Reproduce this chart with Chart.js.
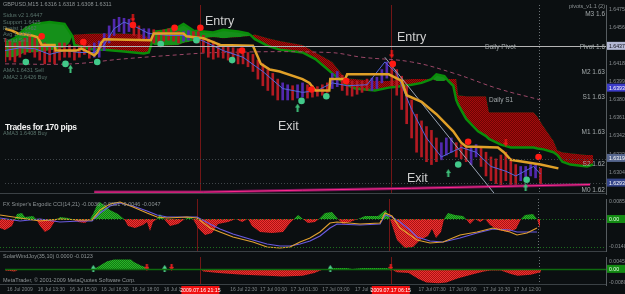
<!DOCTYPE html>
<html>
<head>
<meta charset="utf-8">
<script src="https://cdn.jsdelivr.net/npm/chart.js@4.4.1/dist/chart.umd.min.js"></script>
<style>
  html, body { margin: 0; padding: 0; background: #0b0f11; }
  #wrap { position: relative; width: 625px; height: 294px; overflow: hidden; background: #0b0f11;
          font-family: "Liberation Sans", Arial, sans-serif; }
  canvas { position: absolute; left: 0; }
  .t { position: absolute; white-space: nowrap; line-height: 1; }
  .big { font-size: 12.5px; color: #d0d0d0; }
  .bold { font-size: 8.5px; font-weight: bold; color: #f2f2f2; letter-spacing: -0.3px; }
  .tiny { font-size: 5.5px; color: #8e9496; }
  .dim { font-size: 5.5px; color: #5a746c; }
  .lvl { font-size: 6.5px; color: #a3a9ab; }
</style>
</head>
<body>
<div id="wrap">
  <canvas id="mainChart" width="625" height="199" style="top:0"></canvas>
  <canvas id="osc1Chart" width="625" height="53" style="top:199px"></canvas>
  <canvas id="osc2Chart" width="625" height="42" style="top:252px"></canvas>

  <div class="t tiny" style="left:3px;top:2px">GBPUSD,M15  1.6316 1.6318 1.6308 1.6311</div>
  <div class="t dim" style="left:3px;top:13px">Sidus v2  1.6447</div>
  <div class="t dim" style="left:3px;top:20px">Support  1.6425</div>
  <div class="t dim" style="left:3px;top:26px">Resist  1.6462</div>
  <div class="t dim" style="left:3px;top:32px">Avg  1.6439</div>
  <div class="t dim" style="left:3px;top:38px">Trend  Sell</div>
  <div class="t dim" style="left:3px;top:68px">AMA 1.6431 Sell</div>
  <div class="t dim" style="left:3px;top:75px">AMA2 1.6426 Buy</div>
  <div class="t dim" style="left:3px;top:131px">AMA3 1.6408 Buy</div>

  <div class="t tiny" style="right:20px;top:4px">pivots_v1.1 (2)</div>
  <div class="t lvl" style="right:20px;top:11px">M3 1.6</div>
  <div class="t lvl" style="right:20px;top:44px">Pivot 1.6</div>
  <div class="t lvl" style="right:20px;top:69px">M2 1.63</div>
  <div class="t lvl" style="right:20px;top:94px">S1 1.63</div>
  <div class="t lvl" style="right:20px;top:129px">M1 1.63</div>
  <div class="t lvl" style="right:20px;top:161px">S2 1.62</div>
  <div class="t lvl" style="right:20px;top:187px">M0 1.62</div>
  <div class="t lvl" style="left:485px;top:44px">Daily Pivot</div>
  <div class="t lvl" style="left:489px;top:97px">Daily S1</div>

  <div class="t big" style="left:205px;top:15px">Entry</div>
  <div class="t big" style="left:397px;top:31px">Entry</div>
  <div class="t big" style="left:278px;top:120px">Exit</div>
  <div class="t big" style="left:407px;top:172px">Exit</div>
  <div class="t bold" style="left:5px;top:123px">Trades for 170 pips</div>

  <div class="t tiny" style="left:3px;top:202px">FX Sniper's Ergodic CCI(14,21) -0.0036 -0.0051 -0.0046 -0.0047</div>
  <div class="t tiny" style="left:3px;top:254px">SolarWindJoy(35,10) 0.0000 -0.0123</div>
  <div class="t tiny" style="left:3px;top:278px">MetaTrader, © 2001-2009 MetaQuotes Software Corp.</div>
</div>

<script>
// ---------- price bars (one per 15 min bar) ----------
const barHigh = [
  1.6445,1.6442,1.6440,1.6442,1.6445,1.6447,1.6445,1.6442,1.6440,1.6438,
  1.6435,1.6440,1.6440,1.6438,1.6435,1.6437,1.6440,1.6438,1.6440,1.6442,
  1.6450,1.6458,1.6465,1.6467,1.6466,1.6465,1.6462,1.6458,1.6455,1.6455,
  1.6454,1.6452,1.6454,1.6455,1.6453,1.6452,1.6452,1.6453,1.6452,1.6452,
  1.6448,1.6444,1.6442,1.6438,1.6438,1.6436,1.6435,1.6434,1.6432,1.6430,
  1.6428,1.6422,1.6418,1.6412,1.6408,1.6402,1.6398,1.6396,1.6395,1.6396,
  1.6398,1.6396,1.6395,1.6394,1.6396,1.6398,1.6408,1.6410,1.6406,1.6402,
  1.6400,1.6400,1.6400,1.6402,1.6403,1.6404,1.6412,1.6420,1.6417,1.6412,
  1.6405,1.6395,1.6380,1.6365,1.6358,1.6352,1.6348,1.6340,1.6335,1.6340,
  1.6340,1.6335,1.6333,1.6332,1.6330,1.6333,1.6330,1.6325,1.6320,1.6318,
  1.6322,1.6325,1.6318,1.6312,1.6310,1.6310,1.6312,1.6312,1.6308
];
const barLow = [
  1.6420,1.6422,1.6420,1.6425,1.6428,1.6430,1.6425,1.6422,1.6418,1.6420,
  1.6418,1.6422,1.6425,1.6425,1.6422,1.6425,1.6428,1.6424,1.6425,1.6425,
  1.6432,1.6440,1.6448,1.6452,1.6450,1.6452,1.6448,1.6444,1.6443,1.6444,
  1.6440,1.6440,1.6442,1.6443,1.6442,1.6440,1.6442,1.6443,1.6444,1.6440,
  1.6430,1.6425,1.6423,1.6425,1.6424,1.6422,1.6420,1.6418,1.6418,1.6415,
  1.6410,1.6402,1.6395,1.6390,1.6385,1.6380,1.6380,1.6380,1.6380,1.6382,
  1.6383,1.6382,1.6383,1.6384,1.6385,1.6388,1.6392,1.6394,1.6390,1.6385,
  1.6384,1.6386,1.6388,1.6390,1.6390,1.6392,1.6398,1.6403,1.6395,1.6385,
  1.6370,1.6355,1.6340,1.6325,1.6320,1.6315,1.6312,1.6315,1.6317,1.6322,
  1.6325,1.6320,1.6318,1.6315,1.6312,1.6320,1.6310,1.6300,1.6295,1.6292,
  1.6290,1.6295,1.6290,1.6290,1.6295,1.6298,1.6300,1.6298,1.6290
];
const bullBars = [18,19,20,21,22,23,24,25,28,29,36,37,56,57,59,60,66,67,74,75,76,77,88,89,90,94,95,104,105,106,107];

// ---------- ichimoku cloud (shifted forward) ----------
const cloudBar = [0,2,4,6,9,12,13,13.6,14,18, 20,24,28,29,29.6,30,32,35,36,38,
  40,42,44,47,49,49.6,50.4,53,55.4,60, 62.6,66,68.6,70.6,74.6,77.4,79,82,84,86,
  87,88.6,89.4,90.4,91,91.4,93,95.4,97,97.6, 98,100,102,106.6,107.4,108.6,110.6,111.4,112.4,114, 117.4,118.6];
const spanA = [1.6440,1.6445,1.6455,1.6460,1.6462,1.6460,1.6452,1.6447,1.6438,1.6433,
  1.6433,1.6431,1.6429,1.6430,1.6440,1.6452,1.6453,1.6457,1.6460,1.6453,
  1.6452,1.6451,1.6454,1.6452,1.6450,1.6448,1.6444,1.6437,1.6433,1.6430,
  1.6423,1.6408,1.6397,1.6392,1.6390,1.6393,1.6394,1.6396,1.6398,1.6402,
  1.6407,1.6405,1.6400,1.6395,1.6380,1.6375,1.6360,1.6347,1.6342,1.6339,
  1.6338,1.6333,1.6330,1.6330,1.6329,1.6328,1.6325,1.6322,1.6315,1.6312,
  1.6310,1.6312];
const spanB = [1.6425,1.6425,1.6430,1.6430,1.6432,1.6435,1.6440,1.6447,1.6449,1.6450,
  1.6450,1.6450,1.6449,1.6445,1.6440,1.6438,1.6437,1.6438,1.6440,1.6442,
  1.6445,1.6446,1.6445,1.6446,1.6447,1.6448,1.6449,1.6445,1.6442,1.6438,
  1.6430,1.6420,1.6403,1.6402,1.6400,1.6400,1.6401,1.6402,1.6402,1.6402,
  1.6400,1.6400,1.6402,1.6402,1.6402,1.6385,1.6384,1.6384,1.6384,1.6367,
  1.6367,1.6367,1.6367,1.6367,1.6362,1.6352,1.6337,1.6327,1.6325,1.6324,
  1.6322,1.6322];

// ---------- lines ----------
const kijunBar = [0,1.4,2.6,5.4,6.6,7.4,10,10.2,14.4,15.4,17,18,18.6,19.4,20,29.4,30,36,36.6,40,
  41,43.4,50,51.6,53.4,55.4,60,61.4,62.6,65.4,65.6,68.6,69,77.4,80,81,84,87,90.4,92,93,99.4,100.6,102,108,111.6];
const kijun = [1.6455,1.6453,1.6450,1.6448,1.6446,1.6438,1.6438,1.6432,1.6432,1.6434,
  1.6430,1.6427,1.6430,1.6440,1.6444,1.6443,1.6450,1.6450,1.6447,1.6445,
  1.6443,1.6438,1.6437,1.6418,1.6412,1.6410,1.6402,1.6398,1.6390,1.6390,
  1.6402,1.6402,1.6407,1.6407,1.6400,1.6385,1.6378,1.6365,1.6347,1.6335,
  1.6331,1.6330,1.6325,1.6317,1.6312,1.6308];
const tenkanBar = [0,3,6,9,12,15,18,20,22,24,26,29,33,37,40,44,48,52,56,60,
  63,66,69,73,76.6,79,82,85,88,92,95,98,101,103,106.6,108];
const tenkan = [1.6432,1.6435,1.6434,1.6428,1.6432,1.6430,1.6430,1.6438,1.6455,1.6462,
  1.6458,1.6450,1.6448,1.6448,1.6442,1.6432,1.6425,1.6410,1.6392,1.6388,
  1.6390,1.6398,1.6395,1.6396,1.6420,1.6408,1.6370,1.6340,1.6320,1.6330,
  1.6325,1.6310,1.6305,1.6300,1.6310,1.6302];
const maBar = [0,13.4,23.4,33.4,43.4,65.4,72,82,90.6,99.4,108];
const ma = [1.6418,1.6418,1.6423,1.6427,1.6430,1.6430,1.6425,1.6420,1.6408,1.6392,1.6380];
const bandBar = [18,40,60,82,118];
const band = [1.6283,1.6283,1.6285,1.6287,1.6291];
const trendBar = [76.6,98.6];
const trend = [1.6425,1.6282];

// ---------- signals ----------
const sellBar = [7.4,15.8,25.8,34.2,39.4,47.8,61.8,68.8,78.2,93.4,107.6];
const sell = [1.6447,1.6441,1.6459,1.6456,1.6456,1.6432,1.6391,1.6400,1.6418,1.6336,1.6320];
const buyBar = [4.2,12.2,18.6,31.4,38.6,45.8,59.8,64.8,91.4,105.2];
const buy = [1.6420,1.6418,1.6420,1.6439,1.6443,1.6422,1.6379,1.6384,1.6312,1.6296];
const downBar = [25.8,78,101];
const down = [1.6466,1.6428,1.6335];
const upBar = [13.2,59,89.4,105];
const up = [1.6413,1.6372,1.6303,1.6288];

// ---------- levels / axis ----------
const dailyPivot = 1.6437;
const bidAsk = [1.6318, 1.6293];
const priceTicks = [1.6475,1.6456,1.6418,1.6399,1.6380,1.6361,1.6342,1.6323,1.6304];
const priceMarks = [1.6437, 1.6393, 1.6319, 1.6293];
const markerBars = [39.4, 77.8];
const markerTimes = ['2009.07.16 21:15', '2009.07.17 06:15'];
const lastBar = 107.6;
const timeBars = [0.4,6.6,13,19.4,25.6,32,45.4,51.4,57.6,64,70.6,83.4,89.6,96.4,102.6];
const timeLabels = ['16 Jul 2009','16 Jul 13:30','16 Jul 15:00','16 Jul 16:30','16 Jul 18:00','16 Jul 19:30',
  '16 Jul 22:30','17 Jul 00:00','17 Jul 01:30','17 Jul 03:00','17 Jul 04:30',
  '17 Jul 07:30','17 Jul 09:00','17 Jul 10:30','17 Jul 12:00'];

// ---------- oscillator 1 ----------
const osc1Bar = [0,1,2.4,3,3.4,4.4,5,6.6,7.2,8,9,10,11,12,13.6,14.4,15.6,17,18,18.6,19.4,20,20.8,22,23.6,24.8,
  25.6,27,28.6,29.4,30,30.6,31.4,32,32.8,34,35.6,37,37.8,38.6,39.6,41,42.4,43.6,45.6,47.2,48.4,49.6,50.4,52,
  54.4,56.6,58,58.8,59.6,60.6,61.6,63,63.8,65,66.4,67.6,68.6,70,71.6,73,75.6,76.6,77.2,77.8,78.2,79.4,81,82.6,
  84,85.6,86.4,87.2,88.2,88.8,89.6,91,92.6,93.2,94,95,96,97,98,99.6,101.6,103.2,104.2,105,106.6,107.4,108];
const osc1Hist = [-0.0045,-0.0055,-0.0035,0,0.0025,0.0030,0.0010,0.0015,0,-0.0035,-0.0065,-0.0050,-0.0010,0.0010,
  0.0005,0,-0.0015,-0.0020,0,0.0025,0.0070,0.0085,0.0070,0.0045,0.0025,0,
  -0.0035,-0.0045,-0.0030,-0.0015,-0.0060,-0.0015,0,0.0025,0,-0.0035,-0.0025,0,0.0010,0,-0.0045,-0.0080,-0.0070,
  -0.0025,-0.0015,0,-0.0015,0,-0.0035,-0.0065,
  -0.0070,-0.0065,-0.0020,0,0.0020,0,-0.0020,-0.0015,0,0.0030,0.0035,0,-0.0025,-0.0015,0,0.0015,0.0015,0.0035,
  0.0045,0.0010,-0.0015,-0.0105,-0.0145,-0.0140,
  -0.0105,-0.0085,-0.0050,-0.0095,-0.0065,0,0.0030,0.0020,0.0015,0,-0.0025,0,-0.0015,0,-0.0030,-0.0055,-0.0065,
  -0.0050,0,0.0020,0.0025,0,-0.0045];
const osc1LineBar = [0,4,8,12,16,18.4,20,22,24,26.6,29.4,31.4,33.4,37.4,39.4,42,44,46.6,50.6,53.4,56,58,60,62,64,
  66,67.4,72,76,77,78.4,80,82,83.4,86,88.6,92,95.4,98.6,102,103.4,105.4,107.4];
const osc1Fast = [0.0020,0.0005,-0.0010,0,-0.0005,-0.0005,0.0045,0.0075,0.0085,0.0060,0.0030,0.0010,0.0005,0.0010,
  0.0005,-0.0045,-0.0065,-0.0090,-0.0115,-0.0140,-0.0145,-0.0140,-0.0115,-0.0095,-0.0065,-0.0020,-0.0015,-0.0025,
  -0.0020,0.0030,0.0015,-0.0045,-0.0080,-0.0105,-0.0120,-0.0115,-0.0080,-0.0065,-0.0045,-0.0065,-0.0080,-0.0070,-0.0045];
const osc1Slow = [0.0005,-0.0010,0,-0.0015,-0.0010,-0.0010,0.0030,0.0065,0.0080,0.0065,0.0040,0.0020,0.0010,0.0010,
  0.0010,-0.0025,-0.0050,-0.0075,-0.0105,-0.0125,-0.0135,-0.0135,-0.0125,-0.0110,-0.0085,-0.0045,-0.0025,-0.0030,
  -0.0025,0.0020,0.0010,-0.0015,-0.0055,-0.0090,-0.0110,-0.0115,-0.0095,-0.0070,-0.0050,-0.0055,-0.0065,-0.0065,-0.0065];
const osc1Levels = [0, -0.0140];

// ---------- oscillator 2 ----------
const osc2Bar = [0,2,3,17.6,18.6,19.4,20.6,22,25.4,26,27.4,28.4,29.2,39.4,40,43,48,53,56,60,62.4,64,65,66,69,70,
  72,77,77.8,79,81.4,83.4,85,87.4,89,91.4,94,96.6,98,100,102,103.4,106,108,108.2];
const osc2Hist = [-0.0010,-0.0015,0,0,0.0010,0.0025,0.0045,0.0055,0.0055,0.0040,0.0020,0.0010,0,0,-0.0015,-0.0025,
  -0.0035,-0.0040,-0.0045,-0.0040,-0.0025,-0.0005,0,0.0005,0.0005,0,0.0005,0.0005,0,-0.0020,-0.0025,-0.0060,
  -0.0080,-0.0085,-0.0080,-0.0055,-0.0035,-0.0015,-0.0010,-0.0010,-0.0030,-0.0040,-0.0035,-0.0020,0];
const osc2UpBar = [17.8,32.2,65.6];
const osc2Up = [0.0003,0.0003,0.0003];
const osc2DownBar = [28.6,33.6,77.8];
const osc2Down = [0.0009,0.0009,0.0009];

// ---------- helpers ----------
const pts = (xs, ys) => xs.map((x, i) => ({x: x, y: ys[i]}));

function dotPattern(a, b) {
  const c = document.createElement('canvas');
  c.width = 2; c.height = 2;
  const g = c.getContext('2d');
  g.fillStyle = b; g.fillRect(0, 0, 2, 2);
  g.fillStyle = a; g.fillRect(0, 0, 1, 1); g.fillRect(1, 1, 1, 1);
  return g.createPattern(c, 'repeat');
}

function arrowIcon(color, isUp, w, h) {
  const c = document.createElement('canvas');
  c.width = w; c.height = h;
  const g = c.getContext('2d');
  g.fillStyle = color;
  const head = Math.ceil(w / 2) + 1;
  g.beginPath();
  if (isUp) {
    g.moveTo(0, head); g.lineTo(w / 2, 0); g.lineTo(w, head);
  } else {
    g.moveTo(0, h - head); g.lineTo(w / 2, h); g.lineTo(w, h - head);
  }
  g.closePath(); g.fill();
  if (isUp) g.fillRect(w / 2 - 1, head - 1, 2, h - head + 1);
  else g.fillRect(w / 2 - 1, 0, 2, h - head + 1);
  return c;
}

const redCloud = dotPattern('#a50c0c', '#6c0404');
const greenHist = dotPattern('#29b529', '#127a12');
const redHist = dotPattern('#f03030', '#a81414');

const upArrow = arrowIcon('#3fbf7a', true, 5, 8);
const downArrow = arrowIcon('#f01818', false, 5, 8);
const upSmall = arrowIcon('#4fd08a', true, 5, 7);
const downSmall = arrowIcon('#e82020', false, 5, 7);

Chart.defaults.animation = false;
Chart.defaults.events = [];
Chart.defaults.plugins.legend.display = false;
Chart.defaults.plugins.tooltip.enabled = false;
Chart.defaults.elements.point.radius = 0;
Chart.defaults.elements.line.tension = 0;
Chart.defaults.font.family = 'Liberation Sans';

function yAxis(min, max, ticks) {
  return {
    position: 'right', min: min, max: max,
    afterBuildTicks: s => { s.ticks = ticks.map(v => ({value: v})); },
    afterFit: s => { s.width = 19; s.paddingTop = 0; s.paddingBottom = 0; },
    grid: {display: false, drawTicks: false},
    border: {display: true, color: '#565c60'},
    ticks: {autoSkip: false, color: '#8a8f92', font: {size: 5.2}, padding: 3,
            callback: v => v.toFixed(4)}
  };
}
const xHidden = {type: 'linear', min: 0, max: 121.2, display: false, offset: false};

// draws the MT4 bits: marker lines, levels, frame and price boxes
const mtPanel = {
  id: 'mtPanel',
  beforeDatasetsDraw(chart) {
    const {ctx, chartArea: a, scales: {x}} = chart;
    ctx.save();
    ctx.lineWidth = 1;
    ctx.strokeStyle = '#721616';
    markerBars.forEach(b => {
      const px = Math.round(x.getPixelForValue(b)) + 0.5;
      ctx.beginPath(); ctx.moveTo(px, a.top); ctx.lineTo(px, a.bottom); ctx.stroke();
    });
    ctx.strokeStyle = '#6c7276';
    ctx.setLineDash([1, 2]);
    const nx = Math.round(x.getPixelForValue(lastBar)) + 0.5;
    ctx.beginPath(); ctx.moveTo(nx, a.top); ctx.lineTo(nx, a.bottom); ctx.stroke();
    ctx.restore();
  },
  afterDatasetsDraw(chart, args, opts) {
    const {ctx, chartArea: a, scales: {y}} = chart;
    ctx.save();
    (opts.levels || []).forEach(l => {
      const py = Math.round(y.getPixelForValue(l.value)) + 0.5;
      ctx.strokeStyle = l.color; ctx.lineWidth = l.width || 1;
      ctx.setLineDash(l.dash || []);
      ctx.beginPath(); ctx.moveTo(a.left, py); ctx.lineTo(a.right, py); ctx.stroke();
    });
    ctx.restore();
  },
  afterDraw(chart, args, opts) {
    const {ctx, chartArea: a, scales: {x, y}} = chart;
    ctx.save();
    ctx.strokeStyle = '#3b4145'; ctx.lineWidth = 1;
    ctx.beginPath(); ctx.moveTo(0, a.bottom - 0.5); ctx.lineTo(a.right, a.bottom - 0.5); ctx.stroke();
    ctx.font = '5.2px "Liberation Sans"';
    ctx.textBaseline = 'middle';
    (opts.boxes || []).forEach(bx => {
      const py = y.getPixelForValue(bx.value);
      ctx.fillStyle = bx.bg;
      ctx.fillRect(a.right + 1, py - 4, chart.width - a.right - 1, 8);
      ctx.fillStyle = bx.fg; ctx.textAlign = 'left';
      ctx.fillText(bx.text, a.right + 3, py + 0.5);
    });
    if (opts.timeBoxes) {
      markerBars.forEach((b, i) => {
        const px = x.getPixelForValue(b);
        ctx.fillStyle = '#f01010';
        ctx.fillRect(px - 19, a.bottom + 1, 38, 8);
        ctx.fillStyle = '#ffffff'; ctx.textAlign = 'center';
        ctx.fillText(markerTimes[i], px, a.bottom + 5.5);
      });
    }
    ctx.restore();
  }
};
Chart.register(mtPanel);

// ---------- main price panel ----------
const markColors = [['#b4b8d4', '#101018'], ['#3c3cc8', '#ffffff'], ['#56668e', '#ffffff'], ['#34448a', '#ffffff']];
new Chart(document.getElementById('mainChart'), {
  type: 'line',
  data: {
    datasets: [
      {label: 'Senkou A', data: pts(cloudBar, spanA), borderColor: '#0a8d0a', borderWidth: 2.5,
       fill: {target: 1, above: '#15901a', below: redCloud}, order: 10},
      {label: 'Senkou B', data: pts(cloudBar, spanB), borderColor: 'rgba(0,0,0,0)', borderWidth: 0,
       fill: false, order: 11},
      {label: 'MA', data: pts(maBar, ma), borderColor: '#9c4868', borderWidth: 1, borderDash: [4, 3],
       tension: 0.4, order: 9},
      {type: 'bar', label: 'Price', data: barHigh.map((h, i) => ({x: i, y: [barLow[i], h]})),
       backgroundColor: barHigh.map((h, i) => bullBars.includes(i) ? '#5229ae' : '#b31a22'),
       barThickness: 2, grouped: false, order: 8},
      {label: 'Band', data: pts(bandBar, band), borderColor: '#7a1458', borderWidth: 3, order: 7},
      {label: 'Band edge', data: pts(bandBar, band), borderColor: '#ff2a8c', borderWidth: 1, order: 6},
      {label: 'Trend', data: pts(trendBar, trend), borderColor: '#9aa4b4', borderWidth: 1, order: 6},
      {label: 'Tenkan', data: pts(tenkanBar, tenkan), borderColor: '#5566dd', borderWidth: 1, order: 5},
      {label: 'Kijun', data: pts(kijunBar, kijun), borderColor: '#e0a028', borderWidth: 2.5, order: 4},
      {label: 'Sell', data: pts(sellBar, sell), showLine: false, pointRadius: 3.3,
       pointBackgroundColor: '#ff1a14', pointBorderWidth: 0, order: 1},
      {label: 'Buy', data: pts(buyBar, buy), showLine: false, pointRadius: 3.3,
       pointBackgroundColor: '#42c98a', pointBorderWidth: 0, order: 1},
      {label: 'Down', data: pts(downBar, down), showLine: false, pointRadius: 4, pointStyle: downArrow, order: 0},
      {label: 'Up', data: pts(upBar, up), showLine: false, pointRadius: 4, pointStyle: upArrow, order: 0}
    ]
  },
  options: {
    responsive: false,
    layout: {padding: 0},
    scales: {x: xHidden, y: yAxis(1.6281, 1.6480, priceTicks)},
    plugins: {
      mtPanel: {
        levels: [
          {value: dailyPivot, color: '#b4b4b4'},
          {value: bidAsk[0], color: '#40464a', dash: [1, 2]},
          {value: bidAsk[1], color: '#40464a', dash: [1, 2]}
        ],
        boxes: priceMarks.map((v, i) => ({value: v, text: v.toFixed(4), bg: markColors[i][0], fg: markColors[i][1]}))
      }
    }
  }
});

// ---------- oscillator 1 ----------
new Chart(document.getElementById('osc1Chart'), {
  type: 'line',
  data: {
    datasets: [
      {label: 'Hist', data: pts(osc1Bar, osc1Hist), borderWidth: 0, borderColor: 'rgba(0,0,0,0)',
       fill: {target: 'origin', above: greenHist, below: redHist}, order: 5},
      {label: 'Fast', data: pts(osc1LineBar, osc1Fast), borderColor: '#e0a030', borderWidth: 1.2, order: 1},
      {label: 'Slow', data: pts(osc1LineBar, osc1Slow), borderColor: '#6a5ae0', borderWidth: 1.2, order: 2}
    ]
  },
  options: {
    responsive: false,
    layout: {padding: 0},
    scales: {x: xHidden, y: yAxis(-0.0165, 0.0100, [0.0085, -0.0140])},
    plugins: {
      mtPanel: {
        levels: osc1Levels.map(v => ({value: v, color: '#1d6e1d', dash: [1, 2]})),
        boxes: [{value: 0, text: '0.00', bg: '#128a12', fg: '#e8ffe8'}]
      }
    }
  }
});

// ---------- oscillator 2 + time axis ----------
new Chart(document.getElementById('osc2Chart'), {
  type: 'line',
  data: {
    datasets: [
      {label: 'Hist', data: pts(osc2Bar, osc2Hist), borderWidth: 0, borderColor: 'rgba(0,0,0,0)',
       fill: {target: 'origin', above: greenHist, below: redHist}, order: 5},
      {label: 'Up', data: pts(osc2UpBar, osc2Up), showLine: false, pointRadius: 4, pointStyle: upSmall, order: 0},
      {label: 'Down', data: pts(osc2DownBar, osc2Down), showLine: false, pointRadius: 4, pointStyle: downSmall, order: 0}
    ]
  },
  options: {
    responsive: false,
    layout: {padding: 0},
    scales: {
      x: {
        type: 'linear', min: 0, max: 121.2, offset: false, position: 'bottom',
        afterBuildTicks: s => { s.ticks = timeBars.map(v => ({value: v})); },
        afterFit: s => { s.height = 9; s.paddingLeft = 0; s.paddingRight = 0; },
        grid: {display: false, drawTicks: false},
        border: {display: false},
        ticks: {autoSkip: false, maxRotation: 0, align: 'start', padding: 2, color: '#7e8487',
                font: {size: 5}, callback: (v, i) => timeLabels[i]}
      },
      y: yAxis(-0.0095, 0.0070, [0.0045, -0.0080])
    },
    plugins: {
      mtPanel: {
        levels: [{value: 0, color: '#0f6a0f', width: 1.5}],
        boxes: [{value: 0, text: '0.00', bg: '#128a12', fg: '#e8ffe8'}],
        timeBoxes: true
      }
    }
  }
});
</script>
</body>
</html>
